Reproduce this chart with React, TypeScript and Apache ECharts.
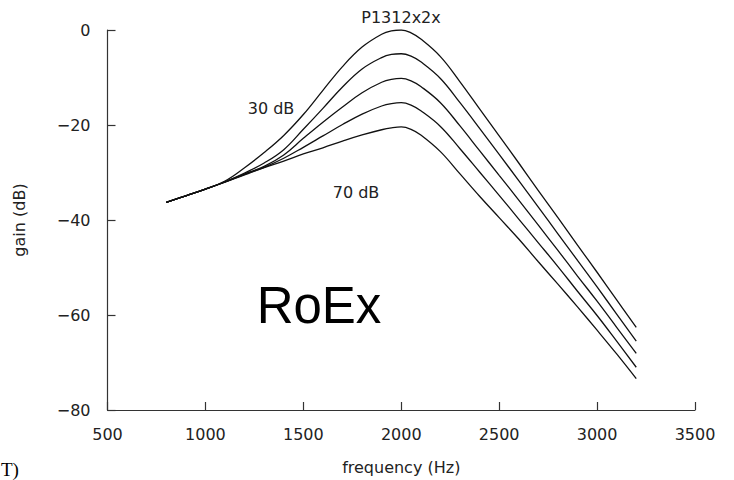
import React, { useEffect, useRef } from 'react';
import * as echarts from 'echarts';

// frequency samples (Hz)
const frequencies = [800, 900, 1000, 1100, 1200, 1300, 1400, 1500, 1600, 1700, 1800, 1900, 1950, 2000, 2050, 2100, 2200, 2300, 2400, 2500, 2600, 2700, 2800, 2900, 3000, 3100, 3200];

// gain (dB) for each level
const gain30 = [-36.3, -34.9, -33.5, -31.8, -29.0, -25.8, -22.2, -17.8, -12.7, -7.7, -3.6, -0.9, -0.2, 0, -0.6, -1.9, -5.6, -10.9, -16.6, -22.3, -28.0, -33.8, -39.5, -45.3, -51.0, -56.8, -62.6];
const gain40 = [-36.3, -34.9, -33.5, -31.95, -30.1, -28.0, -25.2, -20.9, -16.5, -12.0, -8.2, -5.8, -5.15, -5.0, -5.5, -6.7, -10.2, -15.3, -20.7, -26.2, -31.7, -37.3, -42.9, -48.5, -54.1, -59.8, -65.5];
const gain50 = [-36.3, -34.9, -33.5, -32.0, -30.3, -28.7, -26.3, -22.8, -19.4, -16.2, -13.2, -11.0, -10.4, -10.2, -10.7, -11.9, -15.3, -20.2, -25.4, -30.6, -35.8, -41.1, -46.4, -51.8, -57.1, -62.6, -68.1];
const gain60 = [-36.3, -34.9, -33.5, -32.0, -30.4, -28.9, -27.0, -24.7, -22.3, -19.9, -17.7, -16.0, -15.5, -15.3, -15.8, -17.0, -20.3, -25.0, -29.9, -34.8, -39.8, -44.8, -49.8, -55.0, -60.1, -65.5, -71.0];
const gain70 = [-36.3, -34.9, -33.5, -32.05, -30.5, -29.0, -27.6, -26.1, -24.8, -23.4, -22.1, -21.0, -20.6, -20.4, -20.9, -22.1, -25.6, -30.3, -35.0, -39.5, -44.0, -48.8, -53.5, -58.3, -63.2, -68.2, -73.4];

const levelNames = ['30 dB', '40 dB', '50 dB', '60 dB', '70 dB'];
const levelGains = [gain30, gain40, gain50, gain60, gain70];

const FONT = '"DejaVu Sans", sans-serif';
const INK = '#222';

export default function App() {
  const ref = useRef<HTMLDivElement>(null);
  useEffect(() => {
    const chart = echarts.init(ref.current!, null, { renderer: 'svg' });
    const minus = (v: number) => (v < 0 ? '\u2212' + Math.abs(v) : String(v));
    chart.setOption({
      animation: false,
      backgroundColor: '#fff',
      grid: { left: 107.5, right: 39, top: 30, bottom: 61 },
      xAxis: {
        type: 'value',
        min: 500,
        max: 3500,
        interval: 500,
        name: 'frequency (Hz)',
        nameLocation: 'middle',
        nameGap: 49,
        nameTextStyle: { fontFamily: FONT, fontSize: 16, color: INK },
        axisLine: { show: true, onZero: false, lineStyle: { color: '#333', width: 1.2 } },
        axisTick: { show: true, inside: true, length: 8, lineStyle: { color: '#333', width: 1.2 } },
        axisLabel: { fontFamily: FONT, fontSize: 16, color: INK, margin: 16, formatter: (v: number) => String(v) },
        splitLine: { show: false },
      },
      yAxis: {
        type: 'value',
        min: -80,
        max: 0,
        interval: 20,
        name: 'gain (dB)',
        nameLocation: 'middle',
        nameGap: 80,
        nameRotate: 90,
        nameTextStyle: { fontFamily: FONT, fontSize: 16, color: INK },
        axisLine: { show: true, onZero: false, lineStyle: { color: '#333', width: 1.2 } },
        axisTick: { show: true, inside: true, length: 8, lineStyle: { color: '#333', width: 1.2 } },
        axisLabel: { fontFamily: FONT, fontSize: 16, color: INK, margin: 17, formatter: minus },
        splitLine: { show: false },
      },
      series: levelNames.map((name, i) => ({
        name,
        type: 'line',
        data: frequencies.map((f, j) => [f, levelGains[i][j]]),
        showSymbol: false,
        smooth: 0.4,
        lineStyle: { color: '#111', width: 1.3 },
      })),
      graphic: [
        { type: 'text', x: 401, y: 17, style: { text: 'P1312x2x', font: `16px ${FONT}`, fill: INK, textAlign: 'center', textVerticalAlign: 'middle' } },
        { type: 'text', x: 271, y: 108, style: { text: '30 dB', font: `16px ${FONT}`, fill: INK, textAlign: 'center', textVerticalAlign: 'middle' } },
        { type: 'text', x: 356, y: 192, style: { text: '70 dB', font: `16px ${FONT}`, fill: INK, textAlign: 'center', textVerticalAlign: 'middle' } },
        { type: 'text', x: 319, y: 305, style: { text: 'RoEx', font: '51px "Liberation Sans", Arial, sans-serif', fill: '#000', textAlign: 'center', textVerticalAlign: 'middle' } },
        { type: 'text', x: 1, y: 479, style: { text: 'T)', font: '19px "Liberation Serif", serif', fill: '#000', textAlign: 'left', textVerticalAlign: 'bottom' } },
      ],
    });
    return () => chart.dispose();
  }, []);
  return (
    <div
      ref={ref}
      style={{ position: 'fixed', left: 0, top: 0, width: 734, height: 480, background: '#fff' }}
    />
  );
}
